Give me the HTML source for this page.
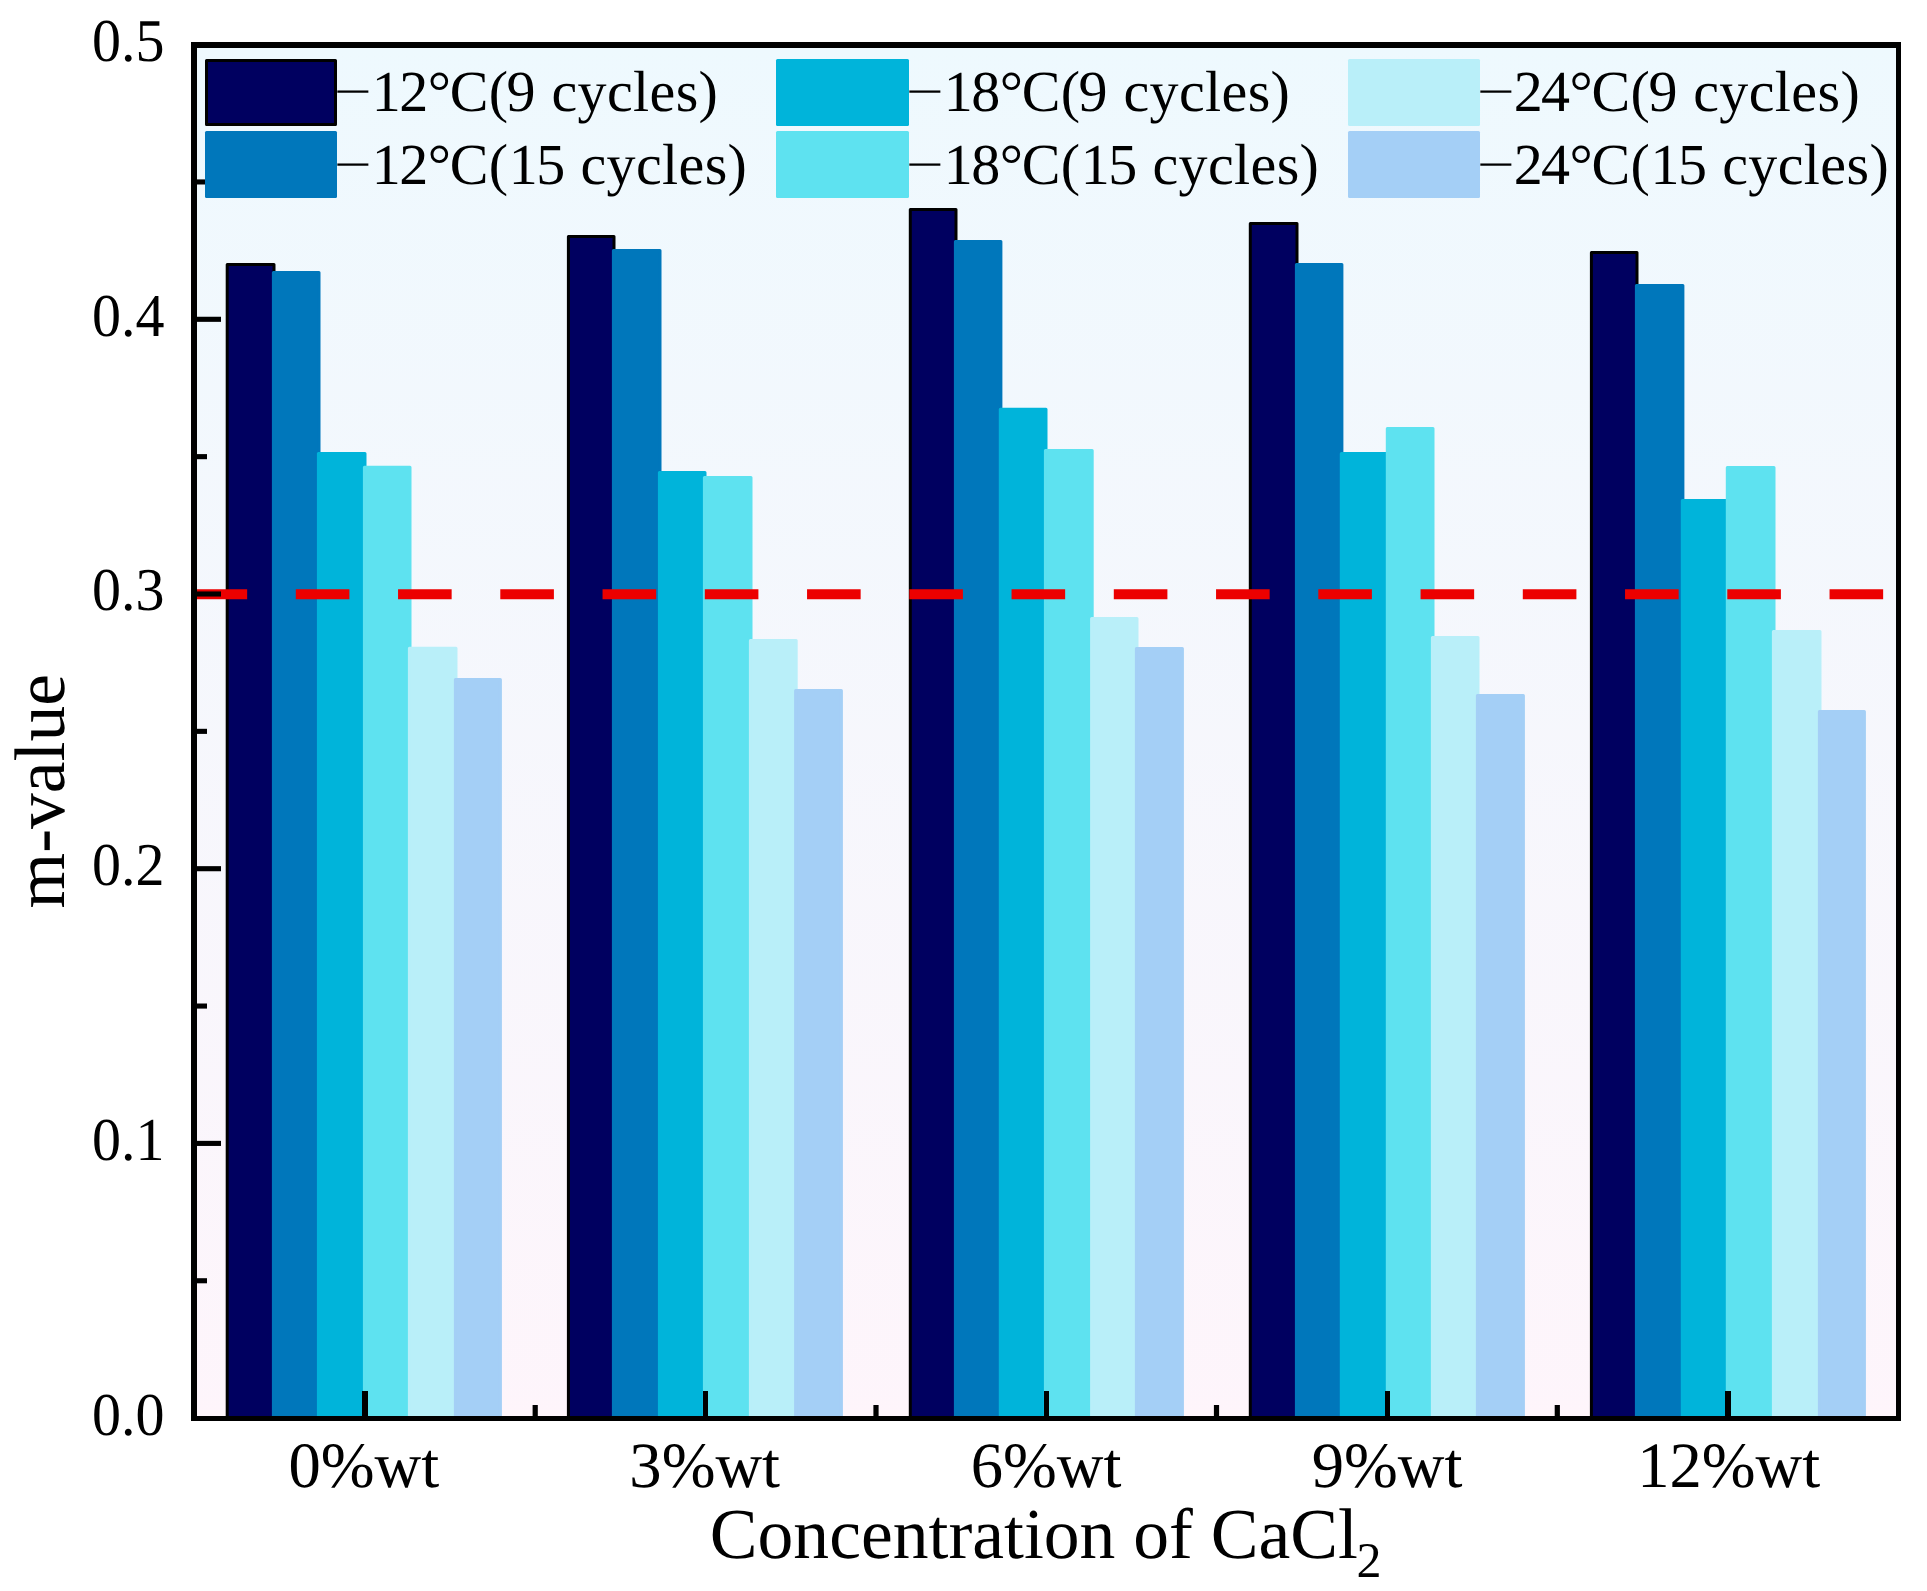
<!DOCTYPE html>
<html lang="en"><head><meta charset="utf-8"><title>m-value vs Concentration of CaCl2</title>
<style>html,body{margin:0;padding:0;background:#fff}svg{display:block}text{font-family:"Liberation Serif","Times New Roman",serif;fill:#000;font-kerning:none;font-variant-ligatures:none;text-rendering:geometricPrecision}</style>
</head><body>
<svg width="1927" height="1591" viewBox="0 0 1927 1591">
<defs><linearGradient id="bg" x1="0" y1="0" x2="0" y2="1"><stop offset="0" stop-color="#EEF9FE"/><stop offset="1" stop-color="#FEF5FB"/></linearGradient></defs>
<rect x="0" y="0" width="1927" height="1591" fill="#fff"/>
<rect x="194" y="45" width="1705" height="1374" fill="url(#bg)"/>
<g stroke-linejoin="round">
<rect x="227.20" y="264.50" width="46.80" height="1154.00" fill="#000060" stroke="#000" stroke-width="3.0"/>
<rect x="273.40" y="272.40" width="45.60" height="1146.10" fill="#0077BB" stroke="#0077BB" stroke-width="3.0"/>
<rect x="318.40" y="453.50" width="46.60" height="965.00" fill="#00B4DA" stroke="#00B4DA" stroke-width="3.0"/>
<rect x="364.40" y="467.20" width="45.60" height="951.30" fill="#5EE2F0" stroke="#5EE2F0" stroke-width="3.0"/>
<rect x="409.40" y="648.20" width="46.60" height="770.30" fill="#B9EFF9" stroke="#B9EFF9" stroke-width="3.0"/>
<rect x="455.40" y="679.40" width="45.00" height="739.10" fill="#A4CFF6" stroke="#A4CFF6" stroke-width="3.0"/>
<rect x="568.40" y="236.40" width="45.60" height="1182.10" fill="#000060" stroke="#000" stroke-width="3.0"/>
<rect x="613.40" y="250.50" width="46.60" height="1168.00" fill="#0077BB" stroke="#0077BB" stroke-width="3.0"/>
<rect x="659.40" y="472.50" width="45.60" height="946.00" fill="#00B4DA" stroke="#00B4DA" stroke-width="3.0"/>
<rect x="704.40" y="477.40" width="46.60" height="941.10" fill="#5EE2F0" stroke="#5EE2F0" stroke-width="3.0"/>
<rect x="750.40" y="640.50" width="45.80" height="778.00" fill="#B9EFF9" stroke="#B9EFF9" stroke-width="3.0"/>
<rect x="795.60" y="690.50" width="45.80" height="728.00" fill="#A4CFF6" stroke="#A4CFF6" stroke-width="3.0"/>
<rect x="910.30" y="209.40" width="45.70" height="1209.10" fill="#000060" stroke="#000" stroke-width="3.0"/>
<rect x="955.40" y="241.50" width="45.50" height="1177.00" fill="#0077BB" stroke="#0077BB" stroke-width="3.0"/>
<rect x="1000.30" y="409.30" width="45.70" height="1009.20" fill="#00B4DA" stroke="#00B4DA" stroke-width="3.0"/>
<rect x="1045.40" y="450.60" width="46.80" height="967.90" fill="#5EE2F0" stroke="#5EE2F0" stroke-width="3.0"/>
<rect x="1091.60" y="618.40" width="45.40" height="800.10" fill="#B9EFF9" stroke="#B9EFF9" stroke-width="3.0"/>
<rect x="1136.40" y="648.50" width="46.00" height="770.00" fill="#A4CFF6" stroke="#A4CFF6" stroke-width="3.0"/>
<rect x="1250.30" y="223.40" width="46.70" height="1195.10" fill="#000060" stroke="#000" stroke-width="3.0"/>
<rect x="1296.40" y="264.50" width="45.50" height="1154.00" fill="#0077BB" stroke="#0077BB" stroke-width="3.0"/>
<rect x="1341.30" y="453.40" width="46.60" height="965.10" fill="#00B4DA" stroke="#00B4DA" stroke-width="3.0"/>
<rect x="1387.30" y="428.40" width="45.70" height="990.10" fill="#5EE2F0" stroke="#5EE2F0" stroke-width="3.0"/>
<rect x="1432.40" y="637.40" width="45.60" height="781.10" fill="#B9EFF9" stroke="#B9EFF9" stroke-width="3.0"/>
<rect x="1477.40" y="695.50" width="46.00" height="723.00" fill="#A4CFF6" stroke="#A4CFF6" stroke-width="3.0"/>
<rect x="1591.40" y="252.60" width="45.60" height="1165.90" fill="#000060" stroke="#000" stroke-width="3.0"/>
<rect x="1636.40" y="285.60" width="46.50" height="1132.90" fill="#0077BB" stroke="#0077BB" stroke-width="3.0"/>
<rect x="1682.30" y="500.60" width="45.60" height="917.90" fill="#00B4DA" stroke="#00B4DA" stroke-width="3.0"/>
<rect x="1727.30" y="467.40" width="46.70" height="951.10" fill="#5EE2F0" stroke="#5EE2F0" stroke-width="3.0"/>
<rect x="1773.40" y="631.40" width="46.60" height="787.10" fill="#B9EFF9" stroke="#B9EFF9" stroke-width="3.0"/>
<rect x="1819.40" y="711.50" width="45.00" height="707.00" fill="#A4CFF6" stroke="#A4CFF6" stroke-width="3.0"/>
</g>
<line x1="193.55" y1="594.2" x2="1898" y2="594.2" stroke="#EC0000" stroke-width="10" stroke-dasharray="53.6 48.65"/>
<g fill="#000">
<rect x="191" y="42" width="6" height="1379"/>
<rect x="1896" y="42" width="5" height="1379"/>
<rect x="191" y="42" width="1710" height="6"/>
<rect x="191" y="1416" width="1710" height="5"/>
<rect x="194" y="1278.20" width="13" height="5.1"/>
<rect x="194" y="1140.85" width="27" height="5.1"/>
<rect x="194" y="1003.50" width="13" height="5.1"/>
<rect x="194" y="866.15" width="27" height="5.1"/>
<rect x="194" y="728.80" width="13" height="5.1"/>
<rect x="194" y="591.45" width="27" height="5.1"/>
<rect x="194" y="454.10" width="13" height="5.1"/>
<rect x="194" y="316.75" width="27" height="5.1"/>
<rect x="194" y="179.40" width="13" height="5.1"/>
<rect x="362" y="1391" width="6" height="27"/>
<rect x="703" y="1391" width="5" height="27"/>
<rect x="1044" y="1391" width="5" height="27"/>
<rect x="1385" y="1391" width="5" height="27"/>
<rect x="1725" y="1391" width="6" height="27"/>
<rect x="532.60" y="1405" width="5.2" height="13"/>
<rect x="873.40" y="1405" width="5.2" height="13"/>
<rect x="1213.90" y="1405" width="5.2" height="13"/>
<rect x="1554.70" y="1405" width="5.2" height="13"/>
</g>
<g font-size="58">
<text transform="translate(92 1434.5) scale(1 1.05)">0.0</text>
<text transform="translate(92 1159.8) scale(1 1.05)">0.1</text>
<text transform="translate(92 885.1) scale(1 1.05)">0.2</text>
<text transform="translate(92 610.4) scale(1 1.05)">0.3</text>
<text transform="translate(92 335.7) scale(1 1.05)">0.4</text>
<text transform="translate(92 61.0) scale(1 1.05)">0.5</text>
</g>
<g font-size="64.6" text-anchor="middle">
<text x="363.8" y="1486.8">0%wt</text>
<text x="704.7" y="1486.8">3%wt</text>
<text x="1046.1" y="1486.8">6%wt</text>
<text x="1387.1" y="1486.8">9%wt</text>
<text x="1728.7" y="1486.8">12%wt</text>
</g>
<text x="709.8" y="1558" font-size="71.6">Concentration of CaCl<tspan font-size="50" dy="19" dx="-1.4">2</tspan></text>
<text transform="translate(64.1 908.5) rotate(-90)" font-size="71.6">m-value</text>
<g font-size="58">
<rect x="206.5" y="60.5" width="129" height="64" fill="#000060" stroke="#000" stroke-width="3" stroke-linejoin="round"/>
<text transform="matrix(1.15 0 0 0.8 334.06 107.16)">−</text>
<text x="371.4" y="111.2" dx="0.45 -1.55 -0.5 -1.3 0.4 -1.5 0 1.3 .375 .375 .375 .375 .375 .375">12°C(9 cycles)</text>
<rect x="205" y="131" width="132" height="67" rx="1.5" fill="#0077BB"/>
<text transform="matrix(1.15 0 0 0.8 334.06 179.76)">−</text>
<text x="371.4" y="183.8" dx="0.45 -1.55 -0.5 -1.3 0.4 0.7 -1.5 0 0.6 .375 .375 .375 .375 .375 .375">12°C(15 cycles)</text>
<rect x="776" y="59" width="133" height="67" rx="1.5" fill="#00B4DA"/>
<text transform="matrix(1.15 0 0 0.8 906.06 107.16)">−</text>
<text x="943.4" y="111.2" dx="0.45 -1.55 -0.5 -1.3 0.4 -1.5 0 1.3 .375 .375 .375 .375 .375 .375">18°C(9 cycles)</text>
<rect x="776" y="131" width="133" height="67" rx="1.5" fill="#5EE2F0"/>
<text transform="matrix(1.15 0 0 0.8 906.06 179.76)">−</text>
<text x="943.4" y="183.8" dx="0.45 -1.55 -0.5 -1.3 0.4 0.7 -1.5 0 0.6 .375 .375 .375 .375 .375 .375">18°C(15 cycles)</text>
<rect x="1348" y="59" width="132" height="67" rx="1.5" fill="#B9EFF9"/>
<text transform="matrix(1.15 0 0 0.8 1477.06 107.16)">−</text>
<text x="1513.2" y="111.2" dx="0.45 -1.55 -0.5 -1.3 0.4 -1.5 0 1.3 .375 .375 .375 .375 .375 .375">24°C(9 cycles)</text>
<rect x="1348" y="131" width="132" height="67" rx="1.5" fill="#A4CFF6"/>
<text transform="matrix(1.15 0 0 0.8 1477.06 179.76)">−</text>
<text x="1513.2" y="183.8" dx="0.45 -1.55 -0.5 -1.3 0.4 0.7 -1.5 0 0.6 .375 .375 .375 .375 .375 .375">24°C(15 cycles)</text>
</g>
</svg>
</body></html>
